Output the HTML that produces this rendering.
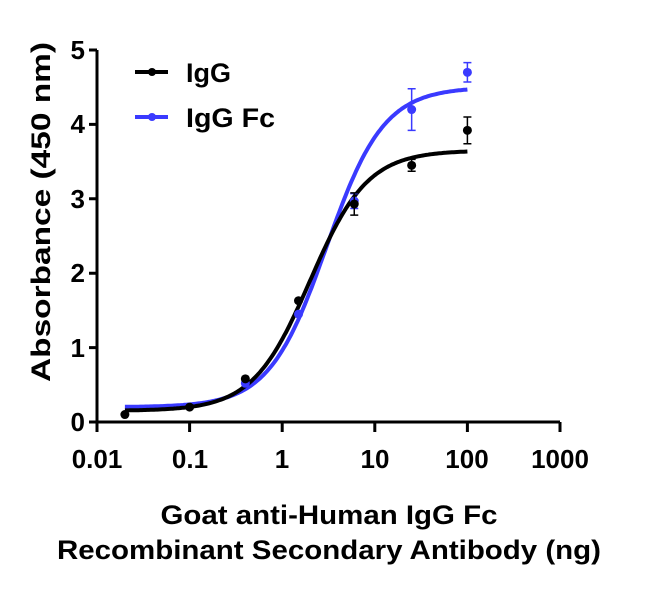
<!DOCTYPE html><html><head><style>body{margin:0;background:#fff}svg{font-family:"Liberation Sans",Arial,sans-serif;font-weight:bold}</style></head><body>
<svg id="s" width="650" height="586" viewBox="0 0 650 586" xmlns="http://www.w3.org/2000/svg">
<g stroke="#000" stroke-width="3" fill="none">
<path d="M97,50 V422 H560"/>
<path d="M89,50H97M89,124.4H97M89,198.8H97M89,273.2H97M89,347.6H97M89,422H97"/>
<path d="M97,422v10M189.6,422v10M282.2,422v10M374.8,422v10M467.4,422v10M560,422v10"/>
</g>
<g font-size="26" text-anchor="end">
<text x="85" y="59">5</text><text x="85" y="133">4</text><text x="85" y="208">3</text><text x="85" y="282">2</text><text x="85" y="357">1</text><text x="85" y="431">0</text>
</g>
<g font-size="26" text-anchor="middle">
<text x="97" y="468">0.01</text><text x="190" y="468">0.1</text><text x="282" y="468">1</text><text x="375" y="468">10</text><text x="467" y="468">100</text><text x="560" y="468">1000</text>
</g>
<text transform="translate(50,212) rotate(-90)" font-size="27" text-anchor="middle" textLength="340" lengthAdjust="spacingAndGlyphs">Absorbance (450 nm)</text>
<text x="329" y="524" font-size="27" text-anchor="middle" textLength="337" lengthAdjust="spacingAndGlyphs">Goat anti-Human IgG Fc</text>
<text x="329" y="559" font-size="27" text-anchor="middle" textLength="544" lengthAdjust="spacingAndGlyphs">Recombinant Secondary Antibody (ng)</text>
<path d="M135,72H168" stroke="#000" stroke-width="4"/><circle cx="152" cy="72" r="4"/>
<path d="M135,117H168" stroke="#3a3aff" stroke-width="4"/><circle cx="152" cy="117" r="4" fill="#3a3aff"/>
<text x="186" y="82" font-size="27" textLength="45" lengthAdjust="spacingAndGlyphs">IgG</text><text x="186" y="127" font-size="27" textLength="89" lengthAdjust="spacingAndGlyphs">IgG Fc</text>
<g id="g"></g>
</svg>
<script>
var X=function(x){return 97+(Math.log10(x)+2)*92.6},Y=function(y){return 422-y*74.4};
function curve(b,t,ec,h,col){var d="";for(var i=0;i<=200;i++){var lx=Math.log10(0.02)+i/200*(2-Math.log10(0.02));var x=Math.pow(10,lx);var y=b+(t-b)/(1+Math.pow(ec/x,h));d+=(i?"L":"M")+X(x).toFixed(1)+","+Y(y).toFixed(1);}return '<path d="'+d+'" stroke="'+col+'" stroke-width="4" fill="none"/>';}
function pts(a,col){var s="";a.forEach(function(p){var cx=X(p[0]),cy=Y(p[1]);if(p[2]){var e=p[2]*74.4;s+='<path d="M'+cx+','+(cy-e)+'V'+(cy+e)+'M'+(cx-4)+','+(cy-e)+'h8M'+(cx-4)+','+(cy+e)+'h8" stroke="'+col+'" stroke-width="1.5"/>';}s+='<circle cx="'+cx+'" cy="'+cy+'" r="4.5" fill="'+col+'"/>';});return s;}
var B="#3a3aff";
document.getElementById("g").innerHTML=curve(0.2,4.5,3.0,1.4,B)+curve(0.15,3.65,2.0,1.4,"#000")+
pts([[0.4,0.52],[1.5,1.45],[6,2.97,0.1],[25,4.2,0.28],[100,4.7,0.13]],B)+
pts([[0.02,0.1],[0.1,0.2],[0.4,0.58],[1.5,1.63],[6,2.93,0.15],[25,3.45,0.08],[100,3.92,0.18]],"#000");
</script>
</body></html>
